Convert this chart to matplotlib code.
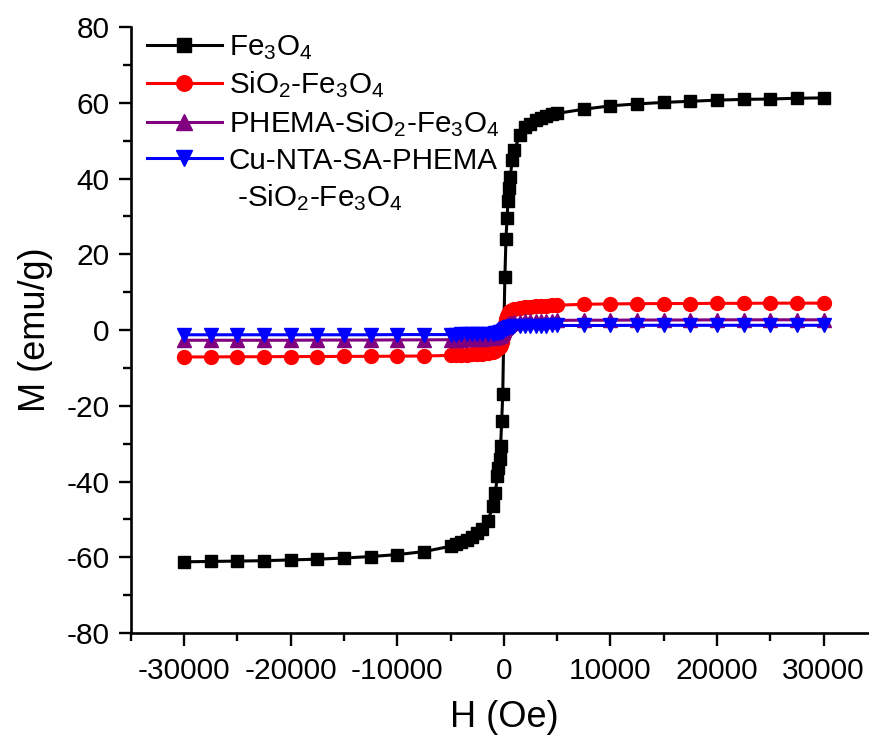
import matplotlib
matplotlib.use("Agg")
import matplotlib.pyplot as plt
from matplotlib.ticker import MultipleLocator

# field values (Oe), shared by all four samples
h_field = [-30000, -27500, -25000, -22500, -20000, -17500, -15000, -12500, -10000, -7500,
           -5000, -4500, -4000, -3500, -3000, -2500, -2000, -1500, -1000, -800, -600, -500,
           -400, -300, -200, -100, 0,
           100, 200, 300, 400, 500, 600, 800, 1000, 1500, 2000, 2500, 3000, 3500, 4000,
           4500, 5000, 7500, 10000, 12500, 15000, 17500, 20000, 22500, 25000, 27500, 30000]

# magnetization (emu/g)
m_fe3o4 = [-61.2, -61.1, -61.0, -60.9, -60.7, -60.5, -60.2, -59.8, -59.3, -58.5,
           -57.1, -56.6, -56.0, -55.4, -54.6, -53.7, -52.5, -50.3, -46.5, -42.9, -38.6, -36.5,
           -34.0, -30.6, -24.0, -17.0, 0.0,
           14.0, 24.0, 29.5, 34.0, 37.5, 40.5, 45.0, 47.5, 51.5, 53.5, 54.5, 55.4, 56.1, 56.6,
           57.0, 57.2, 58.3, 59.2, 59.7, 60.1, 60.4, 60.7, 60.9, 61.0, 61.2, 61.3]

m_sio2 = [-7.1, -7.1, -7.05, -7.05, -7.0, -7.0, -6.95, -6.95, -6.9, -6.85,
          -6.7, -6.65, -6.6, -6.5, -6.45, -6.35, -6.25, -6.1, -5.8, -5.5, -5.1, -4.8,
          -4.4, -3.9, -3.1, -1.8, 0.0,
          1.5, 3.0, 3.8, 4.3, 4.7, 5.0, 5.3, 5.5, 5.8, 6.0, 6.1, 6.25, 6.35, 6.4,
          6.5, 6.55, 6.8, 6.9, 6.95, 7.0, 7.0, 7.05, 7.05, 7.1, 7.1, 7.1]

m_phema = [-2.7, -2.7, -2.7, -2.7, -2.7, -2.65, -2.65, -2.65, -2.6, -2.6,
           -2.55, -2.5, -2.5, -2.45, -2.4, -2.35, -2.3, -2.2, -2.05, -1.95, -1.8, -1.7,
           -1.5, -1.25, -0.9, -0.5, 0.0,
           0.5, 0.9, 1.25, 1.5, 1.7, 1.8, 1.95, 2.05, 2.2, 2.3, 2.35, 2.4, 2.45, 2.5,
           2.5, 2.55, 2.6, 2.6, 2.65, 2.65, 2.65, 2.7, 2.7, 2.7, 2.7, 2.7]

m_cu = [-1.25, -1.25, -1.25, -1.25, -1.25, -1.25, -1.25, -1.25, -1.2, -1.2,
        -1.2, -1.2, -1.15, -1.15, -1.1, -1.1, -1.05, -1.0, -0.95, -0.9, -0.8, -0.75,
        -0.65, -0.55, -0.4, -0.2, 0.0,
        0.2, 0.4, 0.55, 0.65, 0.75, 0.8, 0.9, 0.95, 1.0, 1.05, 1.1, 1.1, 1.15, 1.15,
        1.2, 1.2, 1.2, 1.2, 1.25, 1.25, 1.25, 1.25, 1.25, 1.25, 1.25, 1.25]

plt.rcParams['font.family'] = ['Liberation Sans', 'DejaVu Sans']
plt.rcParams['mathtext.fontset'] = 'custom'
plt.rcParams['mathtext.rm'] = 'Liberation Sans'
plt.rcParams['mathtext.it'] = 'Liberation Sans:italic'
plt.rcParams['axes.unicode_minus'] = False

fig = plt.figure(figsize=(8.7, 7.45), dpi=100)
ax = fig.add_axes([0.1502, 0.1503, 0.8578, 0.8134])

ax.plot(h_field, m_fe3o4, color='black', lw=2.2, marker='s', ms=9, mec='black',
        label='Fe$_3$O$_4$')
ax.plot(h_field, m_sio2, color='#ff0000', lw=2.2, marker='o', ms=10, mec='#ff0000',
        label='SiO$_2$-Fe$_3$O$_4$')
ax.plot(h_field, m_phema, color='#800080', lw=2.2, marker='^', ms=10.5, mec='#800080',
        label='PHEMA-SiO$_2$-Fe$_3$O$_4$')
ax.plot(h_field, m_cu, color='#0000ff', lw=2.2, marker='v', ms=10.5, mec='#0000ff',
        label='Cu-NTA-SA-PHEMA')
# second line of the last legend label, no handle
ax.plot([], [], color='none', label=' -SiO$_2$-Fe$_3$O$_4$')

ax.set_xlim(-35000, 35000)
ax.set_ylim(-80, 80)
ax.xaxis.set_major_locator(MultipleLocator(10000))
ax.xaxis.set_minor_locator(MultipleLocator(5000))
ax.yaxis.set_major_locator(MultipleLocator(20))
ax.yaxis.set_minor_locator(MultipleLocator(10))

ax.spines['top'].set_visible(False)
ax.spines['right'].set_visible(False)
ax.spines['left'].set_linewidth(1.9)
ax.spines['bottom'].set_linewidth(1.9)
ax.tick_params(which='major', direction='out', length=9, width=1.7, labelsize=21.5)
ax.tick_params(axis='x', which='major', pad=8)
ax.tick_params(axis='y', which='major', pad=6)
ax.tick_params(which='minor', direction='out', length=5.5, width=1.7)

ax.set_xlabel('H (Oe)', fontsize=26, labelpad=11)
ax.set_ylabel('M (emu/g)', fontsize=26, labelpad=10)

ax.legend(loc='upper left', bbox_to_anchor=(0.022, 0.99), frameon=False, fontsize=21.3,
          numpoints=1, markerscale=1.12, handlelength=2.52, handletextpad=0.24,
          labelspacing=0.26, borderpad=0, borderaxespad=0)

plt.savefig('out.png', dpi=100)
